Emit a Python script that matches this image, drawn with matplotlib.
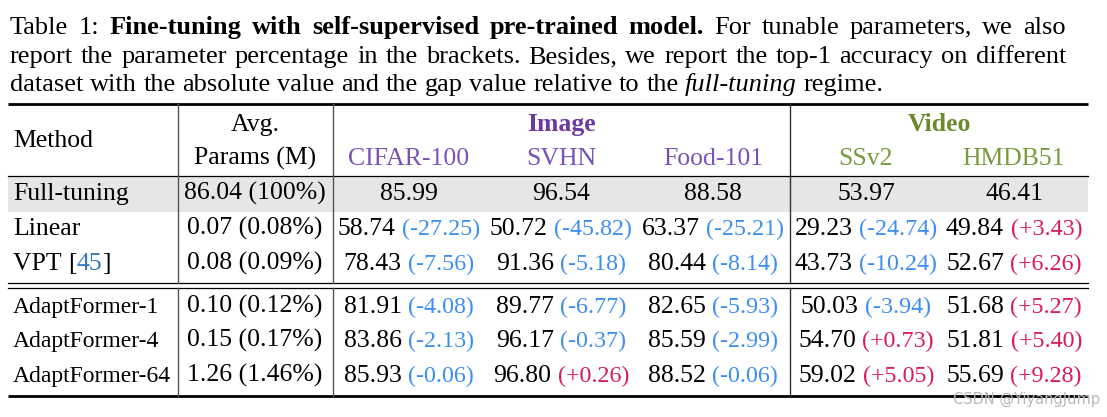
import matplotlib
matplotlib.use("Agg")
import matplotlib.pyplot as plt
from matplotlib.patches import Rectangle

# ---------------- data ----------------
methods = ["Full-tuning", "Linear", "VPT", "AdaptFormer-1", "AdaptFormer-4", "AdaptFormer-64"]
params_m = ["86.04", "0.07", "0.08", "0.10", "0.15", "1.26"]
params_pct = ["100%", "0.08%", "0.09%", "0.12%", "0.17%", "1.46%"]
image_sets = ["CIFAR-100", "SVHN", "Food-101"]
video_sets = ["SSv2", "HMDB51"]
cifar = ["85.99", "58.74", "78.43", "81.91", "83.86", "85.93"]
svhn = ["96.54", "50.72", "91.36", "89.77", "96.17", "96.80"]
food = ["88.58", "63.37", "80.44", "82.65", "85.59", "88.52"]
ssv2 = ["53.97", "29.23", "43.73", "50.03", "54.70", "59.02"]
hmdb = ["46.41", "49.84", "52.67", "51.68", "51.81", "55.69"]
cifar_gap = [None, "-27.25", "-7.56", "-4.08", "-2.13", "-0.06"]
svhn_gap = [None, "-45.82", "-5.18", "-6.77", "-0.37", "+0.26"]
food_gap = [None, "-25.21", "-8.14", "-5.93", "-2.99", "-0.06"]
ssv2_gap = [None, "-24.74", "-10.24", "-3.94", "+0.73", "+5.05"]
hmdb_gap = [None, "+3.43", "+6.26", "+5.27", "+5.40", "+9.28"]

W, H = 1107, 417
FONT = "Liberation Serif"
FS = 18.5
CAP_FS = 19.0
GAP_FS = 17.3
AF_FS = 17.0
BLUE = "#3d8fef"
RED = "#d81b60"
PURPLE_H = "#6a3a9e"
PURPLE = "#7a52b5"
GREEN_H = "#6b8a2e"
GREEN = "#7a9a3c"
CITE = "#2f78c0"

fig = plt.figure(figsize=(W / 100, H / 100), dpi=100)
ax = fig.add_axes([0, 0, 1, 1])
ax.set_xlim(0, W)
ax.set_ylim(H, 0)
ax.axis("off")
fig.canvas.draw()
renderer = fig.canvas.get_renderer()


def width_of(s, **kw):
    t = ax.text(0, 0, s, fontfamily=FONT, **kw)
    w = t.get_window_extent(renderer).width
    t.remove()
    return w


def space_w(fs, weight="normal", style="normal"):
    return width_of("a a", fontsize=fs, fontweight=weight, fontstyle=style) - \
        width_of("aa", fontsize=fs, fontweight=weight, fontstyle=style)


def draw_runs(x, y, runs, ha="center"):
    """runs: list of (text, props, gap_after_px)"""
    widths = [width_of(t, **p) for t, p, g in runs]
    total = sum(widths) + sum(g for _, _, g in runs[:-1])
    if ha == "center":
        cx = x - total / 2
    elif ha == "right":
        cx = x - total
    else:
        cx = x
    for (t, p, g), w in zip(runs, widths):
        ax.text(cx, y, t, fontfamily=FONT, va="baseline", ha="left", **p)
        cx += w + g


def draw_justified(x0, x1, y, words, justify=True):
    widths = [width_of(t, **p) for t, p in words]
    if justify:
        gap = (x1 - x0 - sum(widths)) / (len(words) - 1)
    else:
        gap = space_w(CAP_FS)
    cx = x0
    for (t, p), w in zip(words, widths):
        ax.text(cx, y, t, fontfamily=FONT, va="baseline", ha="left", **p)
        cx += w + gap


N = dict(fontsize=FS)
CN = dict(fontsize=CAP_FS)
CB = dict(fontsize=CAP_FS, fontweight="bold")
CI = dict(fontsize=CAP_FS, fontstyle="italic")

# ---------------- caption ----------------
L = 10
R = 1066
line1 = [("Table", CN), ("1:", CN)] + [(w, CB) for w in "Fine-tuning with self-supervised pre-trained model.".split()] + \
        [(w, CN) for w in "For tunable parameters, we also".split()]
line2 = [(w, CN) for w in "report the parameter percentage in the brackets. Besides, we report the top-1 accuracy on different".split()]
line3 = [(w, CN) for w in "dataset with the absolute value and the gap value relative to the".split()] + \
        [("full-tuning", CI), ("regime.", CN)]
draw_justified(L, R, 34, line1)
draw_justified(L, R, 63, line2)
draw_justified(L, R, 91, line3, justify=False)

# ---------------- table geometry ----------------
TX0, TX1 = 8, 1088
y_top, y_head, y_gray_end = 104, 176, 212
y_dbl1, y_dbl2, y_bot = 283, 288, 396
vx = [178, 333, 790]
vcol = ["#555555", "#555555", "#333333"]

ax.add_patch(Rectangle((TX0, y_head), TX1 - TX0, y_gray_end - y_head, facecolor="#e6e6e6",
                       edgecolor="none", zorder=0))
ax.plot([TX0, TX1], [y_top, y_top], color="black", lw=2.0, solid_capstyle="butt")
ax.plot([TX0, TX1], [y_head, y_head], color="black", lw=0.9)
ax.plot([TX0, TX1], [y_dbl1, y_dbl1], color="black", lw=0.9)
ax.plot([TX0, TX1], [y_dbl2, y_dbl2], color="black", lw=0.9)
ax.plot([TX0, TX1], [y_bot, y_bot], color="black", lw=2.0, solid_capstyle="butt")
for x, c in zip(vx, vcol):
    ax.plot([x, x], [y_top, y_dbl1], color=c, lw=1.0)
    ax.plot([x, x], [y_dbl2, y_bot], color=c, lw=1.0)

# ---------------- header ----------------
col_x = [409, 561, 713, 866, 1014]
px_c = 255
ax.text(13, 147, "Method", fontfamily=FONT, fontsize=FS, va="baseline", ha="left")
ax.text(px_c, 131, "Avg.", fontfamily=FONT, fontsize=FS, va="baseline", ha="center")
ax.text(px_c, 165, "Params (M)", fontfamily=FONT, fontsize=FS, va="baseline", ha="center")
ax.text((vx[1] + vx[2]) / 2, 131, "Image", fontfamily=FONT, fontsize=FS, fontweight="bold",
        color=PURPLE_H, va="baseline", ha="center")
ax.text((vx[2] + TX1) / 2, 131, "Video", fontfamily=FONT, fontsize=FS, fontweight="bold",
        color=GREEN_H, va="baseline", ha="center")
for name, x in zip(image_sets, col_x[:3]):
    ax.text(x, 165, name, fontfamily=FONT, fontsize=FS, color=PURPLE, va="baseline", ha="center")
for name, x in zip(video_sets, col_x[3:]):
    ax.text(x, 165, name, fontfamily=FONT, fontsize=FS, color=GREEN, va="baseline", ha="center")

# ---------------- body ----------------
row_y = [200, 235, 270, 313, 347, 382]
values = [cifar, svhn, food, ssv2, hmdb]
gaps = [cifar_gap, svhn_gap, food_gap, ssv2_gap, hmdb_gap]
sp = space_w(FS)

for r, y in enumerate(row_y):
    m = methods[r]
    if m == "VPT":
        draw_runs(13, y, [("VPT ", N, 0), ("[", N, 0), ("45", dict(fontsize=FS, color=CITE), 0),
                          ("]", N, 0)], ha="left")
    elif m.startswith("AdaptFormer"):
        ax.text(13, y, m, fontfamily=FONT, fontsize=AF_FS, va="baseline", ha="left")
    else:
        ax.text(13, y, m, fontfamily=FONT, fontsize=FS, va="baseline", ha="left")
    ax.text(px_c, y, f"{params_m[r]} ({params_pct[r]})", fontfamily=FONT, fontsize=FS,
            va="baseline", ha="center")
    for c in range(5):
        v = values[c][r]
        g = gaps[c][r]
        if g is None:
            ax.text(col_x[c], y, v, fontfamily=FONT, fontsize=FS, va="baseline", ha="center")
        else:
            col = RED if g.startswith("+") else BLUE
            draw_runs(col_x[c], y, [(v, N, sp), (f"({g})", dict(fontsize=GAP_FS, color=col), 0)])

# watermark
ax.text(1100, 404, "CSDN @YiyangJump", fontfamily="DejaVu Sans", fontsize=10.5,
        color="#b8b8b8", va="baseline", ha="right")

fig.savefig("out.png", dpi=100)
